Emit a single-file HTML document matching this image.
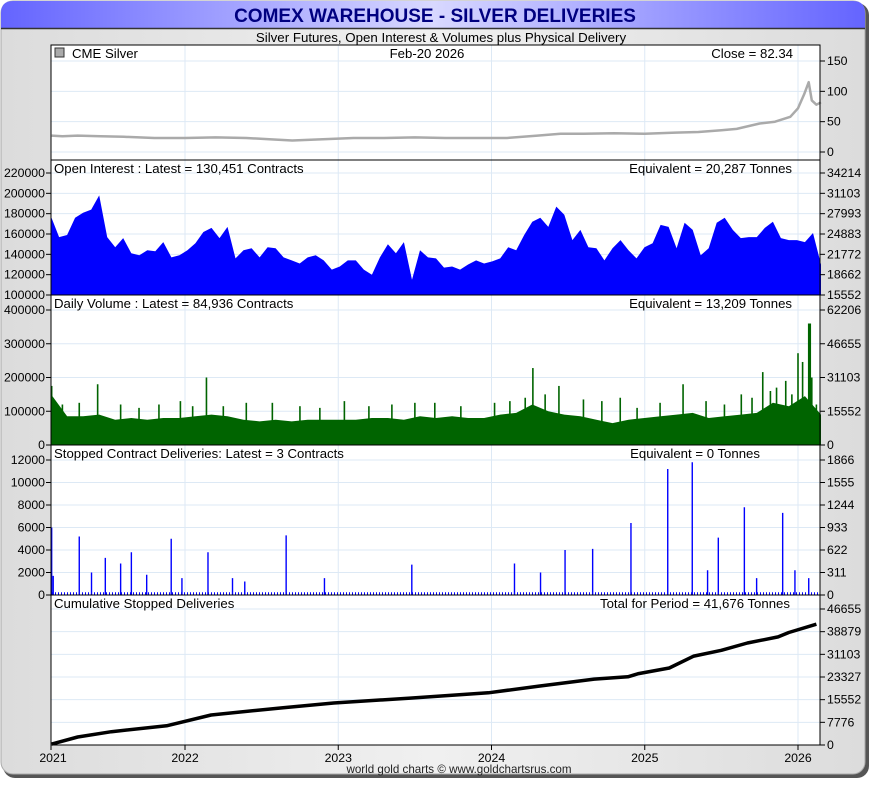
<!DOCTYPE html>
<html><head><meta charset="utf-8">
<style>
html,body{margin:0;padding:0;background:#fff;}
body{width:870px;height:780px;overflow:hidden;font-family:"Liberation Sans",sans-serif;}
svg text{font-family:"Liberation Sans",sans-serif;}
</style></head>
<body>
<svg id="chart" width="870" height="780" viewBox="0 0 870 780" xmlns="http://www.w3.org/2000/svg">
<defs>
<linearGradient id="tg" x1="0" x2="1" y1="0" y2="0">
<stop offset="0" stop-color="#6464ff"/><stop offset="0.5" stop-color="#d8d8ff"/><stop offset="1" stop-color="#6464ff"/>
</linearGradient>
<linearGradient id="bg" x1="0" x2="1" y1="0" y2="0">
<stop offset="0" stop-color="#dcdcdc"/><stop offset="0.5" stop-color="#f0f0f0"/><stop offset="1" stop-color="#dcdcdc"/>
</linearGradient>
</defs>
<rect x="3" y="3" width="866" height="775" rx="12" fill="#555"/>
<rect x="1" y="1" width="864" height="773" rx="12" fill="url(#bg)" stroke="#aaa"/>
<path d="M1,28 L1,13 Q1,1 13,1 L853,1 Q865,1 865,13 L865,28 Z" fill="url(#tg)"/>
<line x1="1" y1="28.5" x2="865" y2="28.5" stroke="#333" stroke-width="1.5"/>
<text x="435" y="22" text-anchor="middle" font-size="19" font-weight="bold" fill="#000080">COMEX WAREHOUSE - SILVER DELIVERIES</text>
<text x="441" y="42" text-anchor="middle" font-size="13.3" fill="#000">Silver Futures, Open Interest &amp; Volumes plus Physical Delivery</text>
<rect x="51" y="45" width="769" height="700" fill="#fff"/>
<g id="grid"></g>
<g id="marks"></g>
<g id="axes"></g>
<rect x="51" y="45" width="769" height="700" fill="none" stroke="#000" stroke-width="1"/>
<line x1="51" y1="160" x2="820" y2="160" stroke="#000"/>
<line x1="51" y1="295" x2="820" y2="295" stroke="#000"/>
<line x1="51" y1="445" x2="820" y2="445" stroke="#000"/>
<line x1="51" y1="595" x2="820" y2="595" stroke="#000"/>
<g font-size="13.2">
<rect x="55" y="48" width="9" height="9" fill="#aaa" stroke="#333"/>
<text x="72" y="58">CME Silver</text>
<text x="427" y="58" text-anchor="middle">Feb-20  2026</text>
<text x="793" y="58" text-anchor="end">Close = 82.34</text>
<text x="54" y="173">Open Interest : Latest = 130,451 Contracts</text>
<text x="792" y="173" text-anchor="end">Equivalent = 20,287 Tonnes</text>
<text x="54" y="308">Daily Volume : Latest = 84,936 Contracts</text>
<text x="792" y="308" text-anchor="end">Equivalent = 13,209 Tonnes</text>
<text x="54" y="458">Stopped Contract Deliveries: Latest = 3 Contracts</text>
<text x="760" y="458" text-anchor="end">Equivalent = 0 Tonnes</text>
<text x="54" y="608">Cumulative Stopped Deliveries</text>
<text x="790" y="608" text-anchor="end">Total for Period = 41,676 Tonnes</text>
</g>
<text x="459" y="773" text-anchor="middle" font-size="11.6" fill="#222">world gold charts © www.goldchartsrus.com</text>
</svg>
<script>
// ---- data ----
const yearTicks = [2021, 2022, 2023, 2024, 2025, 2026];
const seriesStart = 2021.126, seriesEnd = 2026.15;
const priceYears = [2021.13,2021.2,2021.3,2021.45,2021.6,2021.8,2022.0,2022.2,2022.4,2022.55,2022.7,2022.9,2023.1,2023.3,2023.5,2023.7,2023.9,2024.1,2024.3,2024.45,2024.6,2024.8,2025.0,2025.2,2025.35,2025.5,2025.6,2025.75,2025.85,2025.95,2026.0,2026.04,2026.07,2026.09,2026.12,2026.15];
const priceValues = [27,26,27,26,25,23,23,24,23,21,19,21,23,23,24,23,23,23,27,30,30,31,30,32,33,36,38,47,50,58,72,95,115,85,78,82];
const oiValues = [177,157,159,176,181,184,198,157,147,156,141,139,144,143,152,137,139,144,151,162,166,156,167,136,144,146,137,147,146,137,134,131,137,139,134,125,128,134,134,125,120,137,150,141,152,115,144,137,136,127,128,125,130,134,131,133,136,147,144,159,172,176,167,187,179,154,164,147,146,134,146,154,144,136,147,151,169,167,146,171,164,139,146,171,176,164,156,157,157,166,172,156,154,154,152,161,130];
const volLevel = [150,85,85,90,75,80,75,80,80,85,90,85,75,70,75,70,75,75,75,75,80,80,75,85,80,85,80,80,90,95,120,100,90,85,75,65,75,80,85,90,95,80,85,90,95,125,115,145,90];
const volSpikeYears = [2021.13,2021.2,2021.31,2021.43,2021.58,2021.7,2021.83,2021.97,2022.05,2022.14,2022.25,2022.4,2022.57,2022.75,2022.88,2023.04,2023.2,2023.35,2023.5,2023.63,2023.8,2024.02,2024.12,2024.22,2024.27,2024.35,2024.44,2024.6,2024.72,2024.84,2024.95,2025.1,2025.25,2025.4,2025.52,2025.63,2025.7,2025.77,2025.82,2025.86,2025.92,2025.96,2026.0,2026.03,2026.07,2026.08,2026.09,2026.12];
const volSpikeValues = [175,120,125,180,120,110,120,130,115,200,115,125,125,115,110,130,115,120,125,125,115,125,130,140,228,150,175,135,130,140,110,125,180,130,120,150,140,216,160,170,190,150,272,246,360,360,200,120];
const delivBase = 250;
const delivYears = [2021.13,2021.14,2021.31,2021.39,2021.48,2021.58,2021.65,2021.75,2021.91,2021.98,2022.15,2022.31,2022.39,2022.66,2022.91,2023.48,2024.15,2024.32,2024.48,2024.66,2024.91,2025.15,2025.31,2025.41,2025.48,2025.65,2025.73,2025.90,2025.98,2026.07];
const delivValues = [6000,1700,5200,2000,3300,2800,3800,1800,5000,1500,3800,1500,1200,5300,1500,2700,2800,2000,4000,4100,6400,11200,11800,2200,5100,7800,1500,7300,2200,1500];
const cumYears = [2021.13,2021.30,2021.52,2021.88,2022.17,2022.64,2022.97,2023.47,2023.98,2024.31,2024.67,2024.89,2024.96,2025.16,2025.32,2025.50,2025.67,2025.87,2025.94,2026.12];
const cumValues = [300,2740,4560,6600,10300,12800,14400,16100,17900,20200,22600,23400,24500,26400,30500,32500,35000,37100,38600,41450];
const priceTicks = [0,50,100,150];
const oiTicksL = [100000,120000,140000,160000,180000,200000,220000];
const oiTicksR = ["15552","18662","21772","24883","27993","31103","34214"];
const volTicksL = [0,100000,200000,300000,400000];
const volTicksR = ["0","15552","31103","46655","62206"];
const delTicksL = [0,2000,4000,6000,8000,10000,12000];
const delTicksR = ["0","311","622","933","1244","1555","1866"];
const cumTicks = [0,7776,15552,23327,31103,38879,46655];

// ---- scales ----
const NS = "http://www.w3.org/2000/svg";
const X0 = 51, X1 = 820;
const TF = 12.3;
function xYear(y){ return 185 + (y - 2022) * 153.25; }
function xIndex(i, n){ return xYear(seriesStart + (seriesEnd - seriesStart) * i / (n - 1)); }
const yPrice = v => 152 - v * (91 / 150);
const yOI = v => 295 - (v - 100000) * (122 / 120000);
const yVol = v => 445 - v * (135 / 400000);
const yDel = v => 595 - v * (135 / 12000);
const yCum = v => 745 - v * (136 / 46655);

function mk(tag, attrs, parent){
  const e = document.createElementNS(NS, tag);
  for (const k in attrs) e.setAttribute(k, attrs[k]);
  parent.appendChild(e); return e;
}
const grid = document.getElementById('grid');
const marks = document.getElementById('marks');
const axes = document.getElementById('axes');

yearTicks.forEach(yr => {
  const x = Math.max(xYear(yr), X0);
  if (x > X0) {
    const l = mk('line', {x1:x, x2:x, y1:45, y2:745, stroke:'#dde9f5', 'stroke-width':1}, grid);
    
    
  }
  mk('line', {x1:x, x2:x, y1:745, y2:750, stroke:'#000'}, axes);
  const t = mk('text', {x: Math.max(x, 53), y:762, 'text-anchor':'middle', 'font-size':TF}, axes);
  t.textContent = yr;
  
  
});

function hgrid(y){ mk('line', {x1:X0, x2:X1, y1:y, y2:y, stroke:'#dde9f5'}, grid); }
function rightTick(y, label){
  mk('line', {x1:X1, x2:X1+5, y1:y, y2:y, stroke:'#000'}, axes);
  const t = mk('text', {x:X1+7, y:y+4, 'font-size':TF}, axes);
  t.textContent = label;
  
  
}
function leftTick(y, label){
  mk('line', {x1:X0-5, x2:X0, y1:y, y2:y, stroke:'#000'}, axes);
  const t = mk('text', {x:X0-6, y:y+4, 'font-size':TF, 'text-anchor':'end'}, axes);
  t.textContent = label;
  
  
}
priceTicks.forEach(v => { hgrid(yPrice(v)); rightTick(yPrice(v), String(v)); });
oiTicksL.forEach((v,i) => { hgrid(yOI(v)); leftTick(yOI(v), String(v)); rightTick(yOI(v), oiTicksR[i]); });
volTicksL.forEach((v,i) => { hgrid(yVol(v)); leftTick(yVol(v), String(v)); rightTick(yVol(v), volTicksR[i]); });
delTicksL.forEach((v,i) => { hgrid(yDel(v)); leftTick(yDel(v), String(v)); rightTick(yDel(v), delTicksR[i]); });
cumTicks.forEach(v => { hgrid(yCum(v)); rightTick(yCum(v), String(v)); });

let d = priceYears.map((yr,i) => (i?'L':'M') + xYear(yr).toFixed(1) + ',' + yPrice(priceValues[i]).toFixed(1)).join(' ');
const pl = mk('path', {d:d, fill:'none', stroke:'#aaaaaa', 'stroke-width':2.5, 'stroke-linejoin':'round'}, marks);



let od = 'M' + xIndex(0, oiValues.length) + ',295';
oiValues.forEach((v,i) => {
  od += ' L' + xIndex(i, oiValues.length).toFixed(1) + ',' + yOI(v*1000).toFixed(1);
});
od += ' L' + xIndex(oiValues.length-1, oiValues.length) + ',295 Z';
const oa = mk('path', {d:od, fill:'#0000ff'}, marks);



let vd = 'M' + xIndex(0, volLevel.length) + ',445';
volLevel.forEach((v,i) => { vd += ' L' + xIndex(i, volLevel.length).toFixed(1) + ',' + yVol(v*1000).toFixed(1); });
vd += ' L' + xIndex(volLevel.length-1, volLevel.length) + ',445 Z';
const va = mk('path', {d:vd, fill:'#006400'}, marks);


volSpikeYears.forEach((yr,i) => {
  const x = xYear(yr);
  const b = mk('rect', {x:x-0.8, y:yVol(volSpikeValues[i]*1000), width:1.6, height:445-yVol(volSpikeValues[i]*1000), fill:'#006400'}, marks);
  
  
});

const db = mk('line', {x1:X0+1, x2:X1-2, y1:(595+yDel(delivBase))/2, y2:(595+yDel(delivBase))/2, stroke:'#0000ff', 'stroke-width':595-yDel(delivBase), 'stroke-dasharray':'1 2'}, marks);


delivYears.forEach((yr,i) => {
  const x = xYear(yr);
  const b = mk('rect', {x:x-0.7, y:yDel(delivValues[i]), width:1.4, height:595-yDel(delivValues[i]), fill:'#0000ff'}, marks);
  
  
});

let cd = '';
cumYears.forEach((yr,i) => {
  const x = xYear(yr), y = yCum(cumValues[i]);
  cd += (i ? ' L' : 'M') + x.toFixed(1) + ',' + y.toFixed(1);
});
const cl = mk('path', {d:cd, fill:'none', stroke:'#000', 'stroke-width':3.5, 'stroke-linejoin':'round'}, marks);


</script>
</body></html>
